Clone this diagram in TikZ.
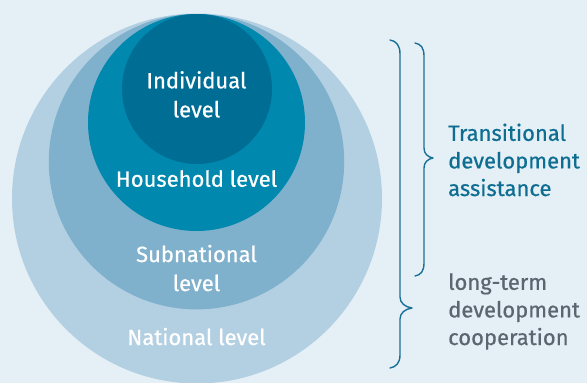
\documentclass[tikz,border=0pt]{standalone}
\usepackage{fontspec}
\setmainfont{Fira Sans}
\newfontfamily\medfont{Fira Sans}[FakeBold=0.6]
\definecolor{bg}{HTML}{E5EFF6}
\definecolor{natc}{HTML}{B2D0E2}
\definecolor{subc}{HTML}{7FB1CD}
\definecolor{houc}{HTML}{0088AE}
\definecolor{indc}{HTML}{006D95}
\definecolor{tealtxt}{HTML}{0E6E92}
\definecolor{graytxt}{HTML}{5B6770}
\definecolor{bracec}{HTML}{1A6F96}
\begin{document}
\begin{tikzpicture}[x=1pt,y=-1pt,
  lvl/.style={text=white, font=\medfont\fontsize{22}{29}\selectfont, align=center, anchor=base, inner sep=0pt},
  side/.style={font=\medfont\fontsize{22}{27.6}\selectfont, align=left, anchor=base west, inner sep=0pt},
  brace/.style={draw=bracec, line width=1.4pt, line cap=round, line join=round}]
\useasboundingbox (0,0) rectangle (587,383);
\fill[bg] (0,0) rectangle (587,383);
% circles
\fill[natc] (197,198.5) circle[radius=185pt];
\fill[subc] (196.5,161.7) circle[radius=147.7pt];
\fill[houc] (196.5,122.5) circle[radius=108.5pt];
\fill[indc] (197,89) circle[radius=75pt];
% labels (anchor = baseline of last line)
\node[lvl] (ind) at (196.5,117.3) {Individual\\level};
\node[lvl] (hou) at (196.5,186.7) {Household level};
\node[lvl] (sub) at (196.5,291) {Subnational\\level};
\node[lvl] (nat) at (196.5,345) {National level};
% braces
\coordinate (tipA) at (433,158);
\coordinate (tipB) at (412,308);
\draw[brace] (415,43) .. controls (421,44) and (424,48) .. (424,56)
  -- (424,148) .. controls (424,154) and (428,157) .. (tipA)
  .. controls (428,159) and (424,162) .. (424,168)
  -- (424,263) .. controls (424,271) and (421,275) .. (415,276);
\draw[brace] (390,40) .. controls (396,41) and (400,45) .. (400,54)
  -- (400,297) .. controls (400,303) and (405,307) .. (tipB)
  .. controls (405,309) and (400,313) .. (400,319)
  -- (400,355) .. controls (400,363) and (396,367) .. (390,368);
% side texts
\node[side, text=tealtxt] (tda) at (448,196) {Transitional\\development\\assistance};
\node[side, text=graytxt] (ltc) at (448,345) {long-term\\development\\cooperation};
\end{tikzpicture}
\end{document}
